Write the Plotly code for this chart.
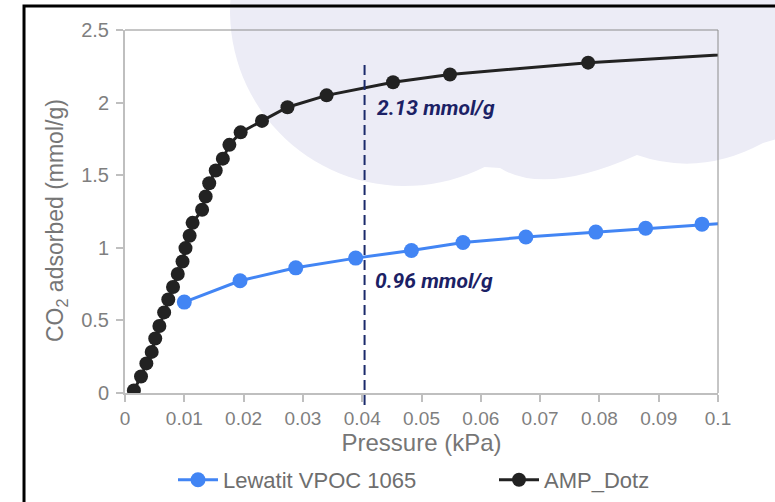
import math
import plotly.graph_objects as go

# ---------------- data ----------------
lewatit_p = [0.0100, 0.0194, 0.0288, 0.0389, 0.0483, 0.0570, 0.0676, 0.0794, 0.0878, 0.0973, 0.1070]
lewatit_q = [0.626, 0.773, 0.862, 0.929, 0.981, 1.037, 1.074, 1.108, 1.135, 1.163, 1.185]

amp_p = [0.0015, 0.0027, 0.0036, 0.0045, 0.0051, 0.0058, 0.0066, 0.0073, 0.0081, 0.0089,
         0.0097, 0.0102, 0.0109, 0.0114, 0.0130, 0.0136, 0.0142, 0.0153, 0.0165, 0.0176,
         0.0195, 0.0231, 0.0274, 0.0340, 0.0452, 0.0548, 0.0781, 0.1100]
amp_q = [0.018, 0.114, 0.204, 0.283, 0.375, 0.461, 0.555, 0.644, 0.730, 0.820,
         0.906, 0.998, 1.083, 1.172, 1.262, 1.353, 1.445, 1.532, 1.614, 1.709,
         1.795, 1.874, 1.968, 2.050, 2.140, 2.194, 2.275, 2.352]

x_ticks = [0, 0.01, 0.02, 0.03, 0.04, 0.05, 0.06, 0.07, 0.08, 0.09, 0.1]
x_tick_labels = ["0", "0.01", "0.02", "0.03", "0.04", "0.05", "0.06", "0.07", "0.08", "0.09", "0.1"]
y_ticks = [0, 0.5, 1, 1.5, 2, 2.5]
y_tick_labels = ["0", "0.5", "1", "1.5", "2", "2.5"]

ref_pressure = 0.0404
label_high = "2.13 mmol/g"
label_low = "0.96 mmol/g"
y_title = "CO<sub>2</sub> adsorbed (mmol/g)"
x_title = "Pressure (kPa)"

# ---------------- layout geometry ----------------
W, H = 775, 502
ML, MR, MT, MB = 125, 57, 30, 109
PW, PH = W - ML - MR, H - MT - MB


def px(x):
    return (x - ML) / PW


def py(y):
    return (H - MB - y) / PH


# cloud decoration (pixel outline -> paper coords)
pts = []
cx, cy, r = 405, 11, 175
a0 = 185.2
for i in range(0, 41):
    a = math.radians(a0 - (a0 - 63) * i / 40)
    pts.append((cx + r * math.cos(a), cy + r * math.sin(a)))
path = "M {:.4f},{:.4f}".format(px(pts[0][0]), py(pts[0][1]))
for (x, y) in pts[1:]:
    path += " L {:.4f},{:.4f}".format(px(x), py(y))
path += " L {:.4f},{:.4f}".format(px(500), py(168))
path += " Q {:.4f},{:.4f} {:.4f},{:.4f}".format(px(545), py(196), px(637), py(155))
path += " Q {:.4f},{:.4f} {:.4f},{:.4f}".format(px(700), py(177), px(763), py(143))
path += " L {:.4f},{:.4f}".format(px(800), py(132))
path += " L {:.4f},{:.4f}".format(px(800), py(-10))
path += " L {:.4f},{:.4f} Z".format(px(225), py(-10))

frame_path = "M {:.4f},{:.4f} L {:.4f},{:.4f} L {:.4f},{:.4f}".format(
    px(24), py(510), px(24), py(6), px(790), py(6))

fig = go.Figure()

fig.add_trace(go.Scatter(
    x=lewatit_p, y=lewatit_q, mode="lines+markers", name="Lewatit VPOC 1065",
    line=dict(color="#4285F4", width=3),
    marker=dict(color="#4285F4", size=15),
    legend="legend",
))
fig.add_trace(go.Scatter(
    x=amp_p, y=amp_q, mode="lines+markers", name="AMP_Dotz",
    line=dict(color="#222222", width=3),
    marker=dict(color="#222222", size=14),
    legend="legend2",
))

shapes = [
    dict(type="path", path=path, xref="paper", yref="paper", layer="below",
         fillcolor="#ECECF6", line=dict(width=0)),
    dict(type="path", path=frame_path, xref="paper", yref="paper", layer="above",
         line=dict(color="#000000", width=3)),
    dict(type="line", xref="paper", yref="paper", x0=0, x1=1, y0=1, y1=1,
         line=dict(color="#8C8C8C", width=1)),
    dict(type="line", xref="paper", yref="paper", x0=1, x1=1, y0=0, y1=1,
         line=dict(color="#8C8C8C", width=1)),
    dict(type="line", xref="x domain", yref="paper", x0=ref_pressure / 0.1, x1=ref_pressure / 0.1,
         y0=py(65), y1=py(407), line=dict(color="#1B2A6B", width=2, dash="10px,5px")),
]

annotations = [
    dict(x=0.0422, y=1.963, xref="x", yref="y", text="<b><i>" + label_high + "</i></b>",
         showarrow=False, xanchor="left", yanchor="middle",
         font=dict(family="Roboto", size=21, color="#1B2165")),
    dict(x=0.0418, y=0.773, xref="x", yref="y", text="<b><i>" + label_low + "</i></b>",
         showarrow=False, xanchor="left", yanchor="middle",
         font=dict(family="Roboto", size=21, color="#1B2165")),
    dict(x=px(56), y=py(221), xref="paper", yref="paper", text=y_title, textangle=-90,
         showarrow=False, xanchor="center", yanchor="middle",
         font=dict(family="Liberation Sans", size=23, color="#767676")),
]

axis_common = dict(
    showgrid=False, zeroline=False, showline=True, linecolor="#BFBFBF", linewidth=2,
    ticks="outside", ticklen=7, tickwidth=2, tickcolor="#BFBFBF",
)

legend_common = dict(
    orientation="h", yanchor="middle", y=py(480), xanchor="left",
    font=dict(family="Liberation Sans", size=22, color="#6E6E6E"),
    bgcolor="rgba(0,0,0,0)", itemwidth=40,
)

fig.update_layout(
    width=W, height=H,
    margin=dict(l=ML, r=MR, t=MT, b=MB, autoexpand=False),
    paper_bgcolor="white", plot_bgcolor="rgba(0,0,0,0)",
    shapes=shapes, annotations=annotations,
    xaxis=dict(range=[0, 0.1], tickvals=x_ticks, ticktext=x_tick_labels,
               tickfont=dict(family="Liberation Sans", size=19, color="#7F7F7F"),
               title=dict(text=x_title, standoff=5,
                          font=dict(family="Liberation Sans", size=24, color="#767676")),
               **axis_common),
    yaxis=dict(range=[0, 2.5], tickvals=y_ticks, ticktext=y_tick_labels,
               tickfont=dict(family="Liberation Sans", size=20, color="#7F7F7F"),
               ticklabelstandoff=3,
               **axis_common),
    # inner halves of the crossing tick marks
    xaxis2=dict(overlaying="x", range=[0, 0.1], tickvals=x_ticks, showticklabels=False,
                ticks="inside", ticklen=5, tickwidth=2, tickcolor="#BFBFBF",
                showgrid=False, zeroline=False, showline=False, side="bottom"),
    yaxis2=dict(overlaying="y", range=[0, 2.5], tickvals=y_ticks, showticklabels=False,
                ticks="inside", ticklen=5, tickwidth=2, tickcolor="#BFBFBF",
                showgrid=False, zeroline=False, showline=False, side="left"),
    legend=dict(x=px(173), **legend_common),
    legend2=dict(x=px(494), **legend_common),
    showlegend=True,
)

fig.write_html("out.html", config={"displayModeBar": False},
               post_script="document.body.style.margin='0';document.body.style.overflow='hidden';")
